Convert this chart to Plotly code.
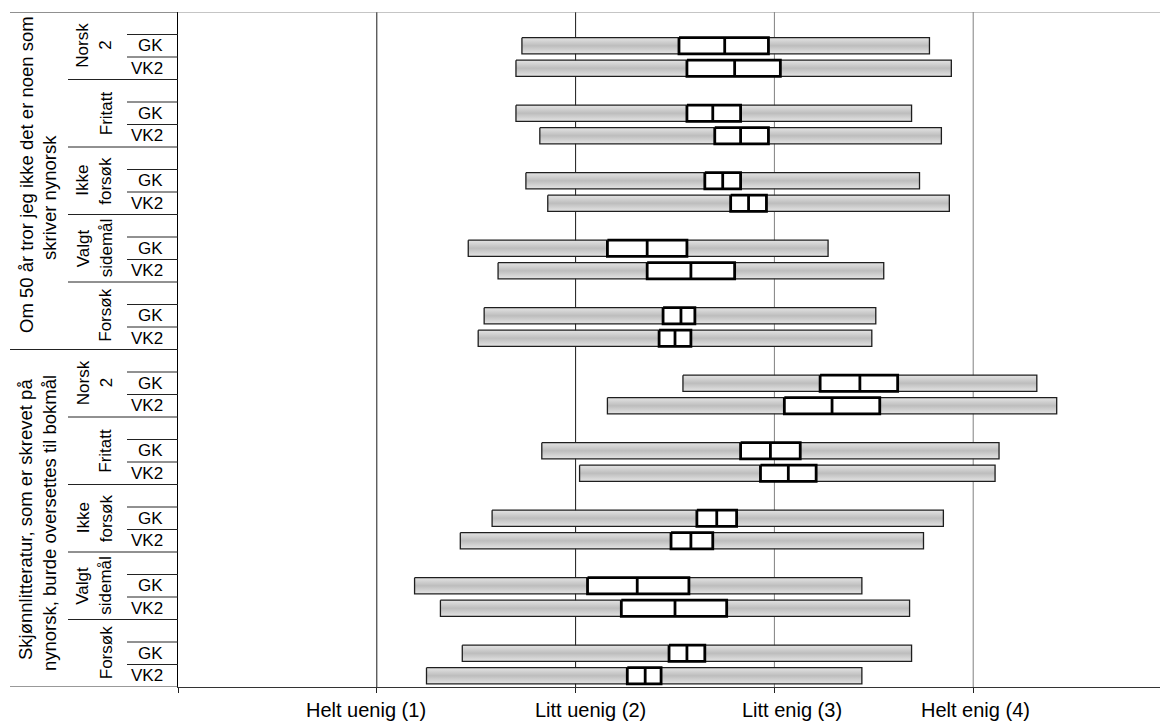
import plotly.graph_objects as go

# ---------------- data ----------------
statement_lines = [
    ["Om 50 år tror jeg ikke det er noen som", "skriver nynorsk"],
    ["Skjønnlitteratur, som er skrevet på", "nynorsk, burde oversettes til bokmål"],
]
group_labels = [["Norsk", "2"], ["Fritatt"], ["Ikke", "forsøk"], ["Valgt", "sidemål"], ["Forsøk"]]
level_labels = ["GK", "VK2"]
x_tick_labels = ["Helt uenig (1)", "Litt uenig (2)", "Litt enig (3)", "Helt enig (4)"]

# rows: statement 1 (5 groups x GK,VK2), statement 2 (5 groups x GK,VK2)
range_low = [1.73, 1.70, 1.70, 1.82, 1.75, 1.86, 1.46, 1.61, 1.54, 1.51,
             2.54, 2.16, 1.83, 2.02, 1.58, 1.42, 1.19, 1.32, 1.43, 1.25]
ci_low = [2.52, 2.56, 2.56, 2.70, 2.65, 2.78, 2.16, 2.36, 2.44, 2.42,
          3.23, 3.05, 2.83, 2.93, 2.61, 2.48, 2.06, 2.23, 2.47, 2.26]
mean = [2.75, 2.80, 2.69, 2.83, 2.74, 2.87, 2.36, 2.58, 2.53, 2.50,
        3.43, 3.29, 2.98, 3.07, 2.71, 2.58, 2.31, 2.50, 2.56, 2.35]
ci_high = [2.97, 3.03, 2.83, 2.97, 2.83, 2.96, 2.56, 2.80, 2.60, 2.58,
           3.62, 3.53, 3.13, 3.21, 2.81, 2.69, 2.57, 2.76, 2.65, 2.43]
range_high = [3.78, 3.89, 3.69, 3.84, 3.73, 3.88, 3.27, 3.55, 3.51, 3.49,
              4.32, 4.42, 4.13, 4.11, 3.85, 3.75, 3.44, 3.68, 3.69, 3.44]

# ---------------- layout constants ----------------
W, H = 1160, 726
ML, MT, MB = 178, 12, 39
PW = W - ML
PH = H - MT - MB
NSLOT = 30
XMAX = PW / 198.8
FONT = "Liberation Sans, Arial, sans-serif"
HALF = 0.36


def px2paper(px):
    return (px - ML) / PW


def py2slot(py):
    return (py - MT) / (PH / NSLOT)


fig = go.Figure()

n_groups = len(group_labels)
mean_x, mean_y = [], []
for r in range(len(mean)):
    st = r // (2 * n_groups)
    g = (r // 2) % n_groups
    lv = r % 2
    gi = st * n_groups + g
    yc = 3 * gi + 1 + lv + 0.5
    y0, y1 = yc - HALF, yc + HALF
    # range bar with gradient
    fig.add_trace(go.Scatter(
        x=[range_low[r], range_high[r], range_high[r], range_low[r], range_low[r]],
        y=[y0, y0, y1, y1, y0], mode="lines", fill="toself",
        line=dict(color="#1e1e1e", width=1.3),
        fillgradient=dict(type="vertical",
                          colorscale=[[0, "#e4e4e4"], [0.5, "#bdbdbd"], [1, "#e4e4e4"]]),
        hoverinfo="skip", showlegend=False))
    # CI box
    fig.add_trace(go.Scatter(
        x=[ci_low[r], ci_high[r], ci_high[r], ci_low[r], ci_low[r]],
        y=[y0, y0, y1, y1, y0], mode="lines", fill="toself", fillcolor="white",
        line=dict(color="black", width=2.8),
        hoverinfo="skip", showlegend=False))
    mean_x += [mean[r], mean[r], None]
    mean_y += [y0, y1, None]

fig.add_trace(go.Scatter(x=mean_x, y=mean_y, mode="lines",
                         line=dict(color="black", width=2.8),
                         hoverinfo="skip", showlegend=False))

shapes = []
# gridlines
grid_colors = ["#1a1a1a", "#1a1a1a", "#808080", "#808080"]
for i, c in enumerate(grid_colors):
    shapes.append(dict(type="line", xref="x", yref="y", x0=i + 1, x1=i + 1, y0=0, y1=NSLOT,
                       line=dict(color=c, width=1), layer="below"))
# top border
shapes.append(dict(type="line", xref="paper", yref="y", x0=0, x1=1, y0=0, y1=0,
                   line=dict(color="#8c8c8c", width=1)))
# left panel lines
for yv, col in [(0, "#222222"), (15, "#222222"), (30, "#333333")]:
    shapes.append(dict(type="line", xref="paper", yref="y", x0=px2paper(10), x1=0,
                       y0=yv, y1=yv, line=dict(color=col, width=1)))
for gi in range(2 * n_groups):
    if gi not in (0, n_groups):
        shapes.append(dict(type="line", xref="paper", yref="y", x0=px2paper(68), x1=0,
                           y0=3 * gi, y1=3 * gi, line=dict(color="#222222", width=1)))
    for k in (1, 2):
        shapes.append(dict(type="line", xref="paper", yref="y", x0=px2paper(127), x1=0,
                           y0=3 * gi + k, y1=3 * gi + k, line=dict(color="#222222", width=1)))

annotations = []
# statement labels
stmt_pos = [[(26, 175), (49, 198)], [(25, 520), (49, 523)]]
for st, lines in enumerate(statement_lines):
    for li, txt in enumerate(lines):
        px, py = stmt_pos[st][li]
        annotations.append(dict(text=txt, xref="paper", yref="y", x=px2paper(px), y=py2slot(py),
                                textangle=-90, showarrow=False, xanchor="center", yanchor="middle",
                                font=dict(family=FONT, size=18.5, color="black")))
# group labels
for st in range(2):
    for g, lines in enumerate(group_labels):
        gi = st * n_groups + g
        xs = [83, 106] if len(lines) == 2 else [106]
        for txt, px in zip(lines, xs):
            annotations.append(dict(text=txt, xref="paper", yref="y", x=px2paper(px),
                                    y=3 * gi + 1.5, textangle=-90, showarrow=False,
                                    xanchor="center", yanchor="middle",
                                    font=dict(family=FONT, size=17, color="black")))
        for lv, lab in enumerate(level_labels):
            annotations.append(dict(text=lab, xref="paper", yref="y", x=px2paper(165),
                                    y=3 * gi + 1 + lv + 0.5, showarrow=False,
                                    xanchor="right", yanchor="middle",
                                    font=dict(family=FONT, size=17, color="black")))
# x labels
label_x = [0.946, 2.073, 3.091, 4.012]
for xv, txt in zip(label_x, x_tick_labels):
    annotations.append(dict(text=txt, xref="x", yref="paper", x=xv, y=-22.5 / PH,
                            showarrow=False, xanchor="center", yanchor="middle",
                            font=dict(family=FONT, size=20, color="black")))

fig.update_layout(
    width=W, height=H,
    margin=dict(l=ML, r=0, t=MT, b=MB, pad=0),
    paper_bgcolor="white", plot_bgcolor="white",
    showlegend=False,
    shapes=shapes, annotations=annotations,
    xaxis=dict(range=[0, XMAX], showgrid=False, zeroline=False,
               tickvals=[0, 1, 2, 3, 4], ticks="outside", ticklen=5, tickcolor="#222222",
               showticklabels=False, showline=True, linecolor="#333333", linewidth=1),
    yaxis=dict(range=[NSLOT, 0], showgrid=False, zeroline=False, showticklabels=False,
               ticks="", showline=True, linecolor="black", linewidth=1),
)

fig.write_html("out.html")
